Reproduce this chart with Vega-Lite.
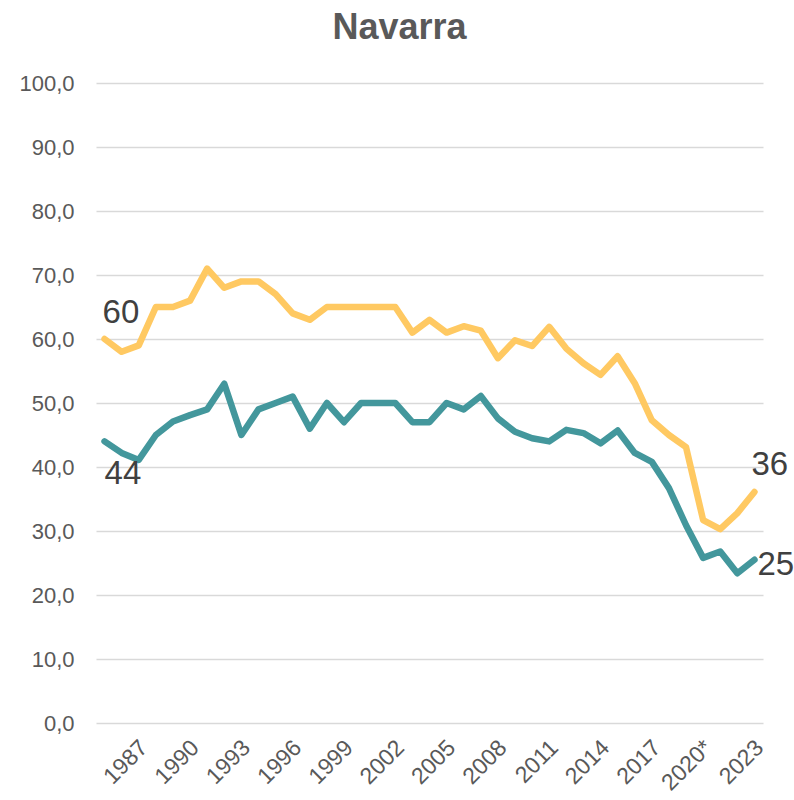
{
  "$schema": "https://vega.github.io/schema/vega-lite/v6.json",
  "autosize": "none",
  "width": 667,
  "height": 640,
  "padding": {"left": 96, "top": 83, "right": 31, "bottom": 77},
  "background": "white",
  "config": {"view": {"stroke": null}, "font": "Liberation Sans"},
  "title": {"text": "Navarra", "fontSize": 36, "fontWeight": "bold", "color": "#595959", "font": "Liberation Sans", "anchor": "middle", "dx": -30, "offset": 25},
  "datasets": {
    "series": [
      {"year": "1985", "series": "Serie 1", "value": 60},
      {"year": "1986", "series": "Serie 1", "value": 58},
      {"year": "1987", "series": "Serie 1", "value": 59},
      {"year": "1988", "series": "Serie 1", "value": 65},
      {"year": "1989", "series": "Serie 1", "value": 65},
      {"year": "1990", "series": "Serie 1", "value": 66},
      {"year": "1991", "series": "Serie 1", "value": 71},
      {"year": "1992", "series": "Serie 1", "value": 68},
      {"year": "1993", "series": "Serie 1", "value": 69},
      {"year": "1994", "series": "Serie 1", "value": 69},
      {"year": "1995", "series": "Serie 1", "value": 67},
      {"year": "1996", "series": "Serie 1", "value": 64},
      {"year": "1997", "series": "Serie 1", "value": 63},
      {"year": "1998", "series": "Serie 1", "value": 65},
      {"year": "1999", "series": "Serie 1", "value": 65},
      {"year": "2000", "series": "Serie 1", "value": 65},
      {"year": "2001", "series": "Serie 1", "value": 65},
      {"year": "2002", "series": "Serie 1", "value": 65},
      {"year": "2003", "series": "Serie 1", "value": 61},
      {"year": "2004", "series": "Serie 1", "value": 63},
      {"year": "2005", "series": "Serie 1", "value": 61},
      {"year": "2006", "series": "Serie 1", "value": 62},
      {"year": "2007", "series": "Serie 1", "value": 61.3},
      {"year": "2008", "series": "Serie 1", "value": 57},
      {"year": "2009", "series": "Serie 1", "value": 59.8},
      {"year": "2010", "series": "Serie 1", "value": 58.9},
      {"year": "2011", "series": "Serie 1", "value": 61.9},
      {"year": "2012", "series": "Serie 1", "value": 58.5},
      {"year": "2013", "series": "Serie 1", "value": 56.2},
      {"year": "2014", "series": "Serie 1", "value": 54.4},
      {"year": "2015", "series": "Serie 1", "value": 57.3},
      {"year": "2016", "series": "Serie 1", "value": 53.1},
      {"year": "2017", "series": "Serie 1", "value": 47.3},
      {"year": "2018", "series": "Serie 1", "value": 45},
      {"year": "2019", "series": "Serie 1", "value": 43.1},
      {"year": "2020*", "series": "Serie 1", "value": 31.7},
      {"year": "2021", "series": "Serie 1", "value": 30.3},
      {"year": "2022", "series": "Serie 1", "value": 32.8},
      {"year": "2023", "series": "Serie 1", "value": 36.1},
      {"year": "1985", "series": "Serie 2", "value": 44},
      {"year": "1986", "series": "Serie 2", "value": 42.2},
      {"year": "1987", "series": "Serie 2", "value": 41.1},
      {"year": "1988", "series": "Serie 2", "value": 45},
      {"year": "1989", "series": "Serie 2", "value": 47.1},
      {"year": "1990", "series": "Serie 2", "value": 48.1},
      {"year": "1991", "series": "Serie 2", "value": 49},
      {"year": "1992", "series": "Serie 2", "value": 53},
      {"year": "1993", "series": "Serie 2", "value": 45},
      {"year": "1994", "series": "Serie 2", "value": 49},
      {"year": "1995", "series": "Serie 2", "value": 50},
      {"year": "1996", "series": "Serie 2", "value": 51},
      {"year": "1997", "series": "Serie 2", "value": 46},
      {"year": "1998", "series": "Serie 2", "value": 50},
      {"year": "1999", "series": "Serie 2", "value": 47},
      {"year": "2000", "series": "Serie 2", "value": 50},
      {"year": "2001", "series": "Serie 2", "value": 50},
      {"year": "2002", "series": "Serie 2", "value": 50},
      {"year": "2003", "series": "Serie 2", "value": 47},
      {"year": "2004", "series": "Serie 2", "value": 47},
      {"year": "2005", "series": "Serie 2", "value": 50},
      {"year": "2006", "series": "Serie 2", "value": 49},
      {"year": "2007", "series": "Serie 2", "value": 51.1},
      {"year": "2008", "series": "Serie 2", "value": 47.6},
      {"year": "2009", "series": "Serie 2", "value": 45.5},
      {"year": "2010", "series": "Serie 2", "value": 44.5},
      {"year": "2011", "series": "Serie 2", "value": 44},
      {"year": "2012", "series": "Serie 2", "value": 45.8},
      {"year": "2013", "series": "Serie 2", "value": 45.3},
      {"year": "2014", "series": "Serie 2", "value": 43.7},
      {"year": "2015", "series": "Serie 2", "value": 45.7},
      {"year": "2016", "series": "Serie 2", "value": 42.2},
      {"year": "2017", "series": "Serie 2", "value": 40.8},
      {"year": "2018", "series": "Serie 2", "value": 36.7},
      {"year": "2019", "series": "Serie 2", "value": 30.9},
      {"year": "2020*", "series": "Serie 2", "value": 25.8},
      {"year": "2021", "series": "Serie 2", "value": 26.8},
      {"year": "2022", "series": "Serie 2", "value": 23.4},
      {"year": "2023", "series": "Serie 2", "value": 25.5}
    ]
  },
  "encoding": {
    "x": {
      "field": "year", "type": "ordinal", "sort": null,
      "scale": {"type": "point", "padding": 0.5},
      "axis": {
        "title": null, "domain": false, "ticks": false, "grid": false,
        "values": ["1987","1990","1993","1996","1999","2002","2005","2008","2011","2014","2017","2020*","2023"],
        "labelAngle": -45, "labelAlign": "right", "labelBaseline": "top",
        "labelFontSize": 23, "labelColor": "#595959", "labelFont": "Liberation Sans", "labelPadding": 13, "labelOffset": -3
      }
    },
    "y": {
      "field": "value", "type": "quantitative",
      "scale": {"domain": [0, 100], "nice": false, "zero": true},
      "axis": {
        "title": null, "domain": false, "ticks": false, "grid": true,
        "values": [0,10,20,30,40,50,60,70,80,90,100],
        "gridColor": "#D9D9D9", "gridWidth": 1.5,
        "labelExpr": "replace(format(datum.value, '.1f'), '.', ',')",
        "labelFontSize": 22, "labelColor": "#595959", "labelFont": "Liberation Sans", "labelPadding": 22
      }
    }
  },
  "layer": [
    {
      "data": {"name": "series"},
      "mark": {"type": "line", "strokeWidth": 6.5, "strokeJoin": "round", "strokeCap": "round"},
      "encoding": {
        "color": {"field": "series", "type": "nominal", "scale": {"domain": ["Serie 1", "Serie 2"], "range": ["#FFC962", "#43979C"]}, "legend": null}
      }
    },
    {
      "data": {"values": [{"year": "1985", "value": 60, "label": "60"}]},
      "mark": {"type": "text", "align": "left", "baseline": "alphabetic", "dx": -2, "dy": -16, "fontSize": 33, "color": "#404040", "font": "Liberation Sans"},
      "encoding": {"text": {"field": "label"}}
    },
    {
      "data": {"values": [{"year": "1985", "value": 44, "label": "44"}]},
      "mark": {"type": "text", "align": "left", "baseline": "alphabetic", "dx": 0, "dy": 43, "fontSize": 33, "color": "#404040", "font": "Liberation Sans"},
      "encoding": {"text": {"field": "label"}}
    },
    {
      "data": {"values": [{"year": "2023", "value": 36.1, "label": "36"}]},
      "mark": {"type": "text", "align": "left", "baseline": "alphabetic", "dx": -3, "dy": -17, "fontSize": 33, "color": "#404040", "font": "Liberation Sans"},
      "encoding": {"text": {"field": "label"}}
    },
    {
      "data": {"values": [{"year": "2023", "value": 25.5, "label": "25"}]},
      "mark": {"type": "text", "align": "left", "baseline": "alphabetic", "dx": 3, "dy": 15, "fontSize": 33, "color": "#404040", "font": "Liberation Sans"},
      "encoding": {"text": {"field": "label"}}
    }
  ]
}
